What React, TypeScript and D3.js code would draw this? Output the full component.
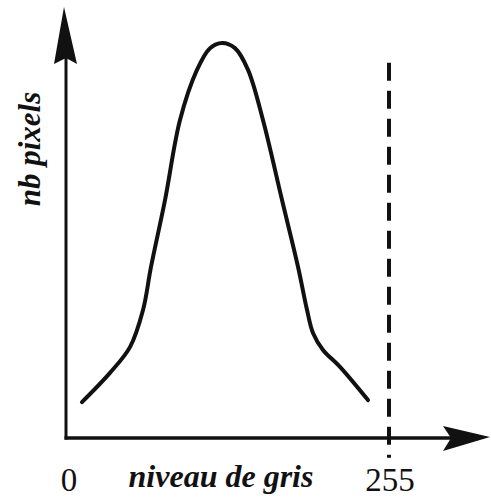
import React from "react";
import * as d3 from "d3";

// gray level (0..255) vs relative pixel count (0..100)
const grayLevels = [12.6, 34.7, 50.5, 60.8, 67.1, 78.2, 90.0, 103.4, 113.7, 123.2, 133.4, 143.7, 155.5, 170.5, 183.2, 190.3, 195.0, 202.9, 216.3, 238.4];
const pixelCounts = [9.1, 16.5, 23.0, 32.4, 43.3, 60.3, 80.5, 93.2, 98.7, 100, 98.7, 93.2, 80.5, 60.3, 43.3, 32.4, 26.6, 22.3, 18.0, 9.6];
const maxLevel = 255;
const dashedExtent = [-5, 95];
const xTickLabels = ["0", "255"];
const xTitle = "niveau de gris";
const yTitle = "nb pixels";

const W = 491;
const H = 500;

export default function App() {
  const x = d3.scaleLinear().domain([0, maxLevel]).range([66, 389]);
  const y = d3.scaleLinear().domain([0, 100]).range([438, 43]);
  const pts: [number, number][] = grayLevels.map((g, i) => [g, pixelCounts[i]]);
  const line = d3
    .line<[number, number]>()
    .x((d) => x(d[0]))
    .y((d) => y(d[1]))
    .curve(d3.curveCatmullRom.alpha(0.5));

  const x0 = x(0);
  const y0 = y(0);
  const serif = "'Liberation Serif', 'Times New Roman', serif";

  return (
    <svg
      width={W}
      height={H}
      style={{ position: "absolute", left: 0, top: 0, background: "#fff" }}
    >
      {/* y axis */}
      <line x1={x0} y1={y0 + 1.5} x2={x0} y2={40} stroke="#111" strokeWidth={3} />
      <path
        d={`M${x0 - 2},7 L${x0 + 11},64 L${x0},58 L${x0 - 12},64 Z`}
        fill="#111"
      />
      {/* x axis */}
      <line x1={x0 - 1.5} y1={y0} x2={470} y2={y0} stroke="#111" strokeWidth={3.5} />
      <path
        d={`M490,${y0 - 1} L443,${y0 + 13} L451,${y0} L443,${y0 - 12} Z`}
        fill="#111"
      />
      {/* dashed line at 255 */}
      <line
        x1={x(maxLevel)}
        x2={x(maxLevel)}
        y1={y(dashedExtent[1])}
        y2={y(dashedExtent[0])}
        stroke="#111"
        strokeWidth={4}
        strokeDasharray="18,10"
      />
      {/* curve */}
      <path
        d={line(pts) || ""}
        fill="none"
        stroke="#111"
        strokeWidth={4}
        strokeLinecap="round"
        strokeLinejoin="round"
      />
      {/* labels */}
      <text x={x(0) + 3} y={491} fontFamily={serif} fontSize={33} textAnchor="middle" fill="#111">
        {xTickLabels[0]}
      </text>
      <text x={x(maxLevel) + 1} y={491} fontFamily={serif} fontSize={33} textAnchor="middle" fill="#111">
        {xTickLabels[1]}
      </text>
      <text
        x={221}
        y={487}
        fontFamily={serif}
        fontSize={32}
        fontWeight="bold"
        fontStyle="italic"
        textAnchor="middle"
        fill="#111"
      >
        {xTitle}
      </text>
      <text
        transform={`translate(40,149) rotate(-90)`}
        fontFamily={serif}
        fontSize={31}
        fontWeight="bold"
        fontStyle="italic"
        textAnchor="middle"
        fill="#111"
      >
        {yTitle}
      </text>
    </svg>
  );
}
